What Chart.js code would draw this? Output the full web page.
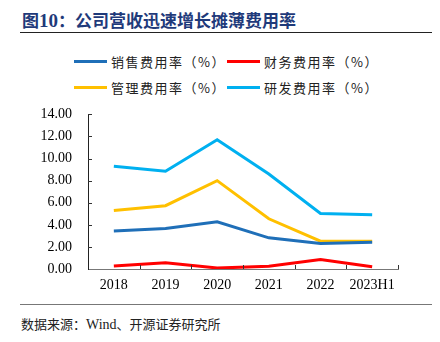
<!DOCTYPE html>
<html>
<head>
<meta charset="utf-8">
<script src="https://cdn.jsdelivr.net/npm/chart.js@4/dist/chart.umd.min.js"></script>
<style>
  body { margin: 0; width: 440px; height: 342px; background: #fff; position: relative; overflow: hidden; }
  #title { position: absolute; left: 22px; top: 7px; font: bold 17px "Noto Sans CJK SC", sans-serif; color: #1f3a7a; white-space: nowrap; }
  #title .num { font-family: "Liberation Serif", serif; font-size: 19px; }
  #topRule { position: absolute; left: 20px; top: 32px; width: 412px; height: 1px; background: #222; }
  #legend { position: absolute; left: 74px; top: 50px; width: 340px; }
  .item { position: absolute; height: 22px; display: flex; align-items: center; white-space: nowrap;
          font: 13px "Noto Sans CJK SC", sans-serif; color: #222; letter-spacing: 1.5px; }
  .item .swatch { width: 33px; height: 3px; margin-right: 4px; }
  #chartBox { position: absolute; left: 0; top: 90px; }
  #chartBox canvas { display: block; }
  #bottomRule { position: absolute; left: 20px; top: 304px; width: 412px; height: 1px; background: #777; }
  #source { position: absolute; left: 21px; top: 314px; font: 13px "Noto Sans CJK SC", sans-serif; color: #222; white-space: nowrap; }
  #source .lat { font-family: "Liberation Serif", serif; font-size: 14px; }
</style>
</head>
<body>
<div id="title">图<span class="num">10</span>：公司营收迅速增长摊薄费用率</div>
<div id="topRule"></div>
<div id="legend"></div>
<div id="chartBox"><canvas id="myChart" width="440" height="210"></canvas></div>
<div id="bottomRule"></div>
<div id="source">数据来源：<span class="lat">Wind</span>、开源证券研究所</div>

<script>
'use strict';
// years on the x axis
let years=['2018','2019','2020','2021','2022','2023H1'];
// expense ratios (%)
let salesRate=[3.45,3.66,4.27,2.82,2.30,2.43];
let financeRate=[0.27,0.57,0.09,0.24,0.85,0.21];
let adminRate=[5.30,5.73,8.00,4.55,2.52,2.52];
let rdRate=[9.30,8.85,11.70,8.60,5.03,4.91];
// y ticks
let yTicks=[0,2,4,6,8,10,12,14];

let seriesNames=['销售费用率（%）','财务费用率（%）','管理费用率（%）','研发费用率（%）'];
let seriesColors=['#1f6fb8','#ff0000','#ffc000','#00b0f0'];
let seriesData=[salesRate,financeRate,adminRate,rdRate];

// html legend, 2 x 2
let legendBox=document.getElementById('legend');
for (let i = 0; i < seriesNames.length; i++) {
  let item=document.createElement('div');
  item.className='item';
  item.style.left=(i%2===0 ? 0 : 153)+'px';
  item.style.top=(i<2 ? 0 : 26)+'px';
  let sw=document.createElement('span');
  sw.className='swatch';
  sw.style.background=seriesColors[i];
  let label=document.createElement('span');
  label.textContent=seriesNames[i];
  item.appendChild(sw);
  item.appendChild(label);
  legendBox.appendChild(item);
}

// small tick marks pointing into the plot area
let innerTicks={
  id:'innerTicks',
  afterDraw(chart){
    let ctx=chart.ctx;
    let x=chart.scales.x;
    let y=chart.scales.y;
    ctx.save();
    ctx.strokeStyle='#333';
    ctx.lineWidth=1;
    ctx.beginPath();
    for (let i = 1; i < y.ticks.length; i++) {
      let py=Math.round(y.getPixelForTick(i))+0.5;
      ctx.moveTo(x.left, py);
      ctx.lineTo(x.left+4, py);
    }
    let step=x.getPixelForTick(1)-x.getPixelForTick(0);
    for (let i = 0; i < years.length; i++) {
      let px=Math.round(x.getPixelForTick(i)+step/2)+0.5;
      ctx.moveTo(px, y.bottom);
      ctx.lineTo(px, y.bottom-4);
    }
    ctx.stroke();
    ctx.restore();
  }
};

let datasets=[];
for (let i = 0; i < seriesNames.length; i++) {
  datasets.push({
    label:seriesNames[i],
    data:seriesData[i],
    borderColor:seriesColors[i],
    backgroundColor:seriesColors[i],
    borderWidth:3,
    pointRadius:0,
    tension:0,
    fill:false
  });
}

let ctx=document.getElementById('myChart').getContext('2d');
let myChart=new Chart(ctx,{
  type:'line',
  data:{ labels:years, datasets:datasets },
  plugins:[innerTicks],
  options:{
    responsive:false,
    animation:false,
    devicePixelRatio:1,
    layout:{ padding:{ top:4, right:42, left:0, bottom:0 } },
    plugins:{ legend:{ display:false }, tooltip:{ enabled:false } },
    scales:{
      x:{
        offset:true,
        grid:{ display:false, drawTicks:false },
        border:{ display:true, color:'#777', width:1 },
        ticks:{ color:'#000', padding:8, maxRotation:0, autoSkip:false,
                font:{ family:'"Liberation Serif", serif', size:14 } },
        afterFit(scale){ scale.height=31; }
      },
      y:{
        min:0, max:14,
        afterBuildTicks(scale){ scale.ticks=yTicks.map(v=>({value:v})); },
        grid:{ display:false, drawTicks:false },
        border:{ display:true, color:'#222', width:1 },
        ticks:{ color:'#000', padding:16,
                callback:(v)=>Number(v).toFixed(2),
                font:{ family:'"Liberation Serif", serif', size:14 } },
        afterFit(scale){ scale.width=88; }
      }
    }
  }
});
</script>
</body>
</html>
